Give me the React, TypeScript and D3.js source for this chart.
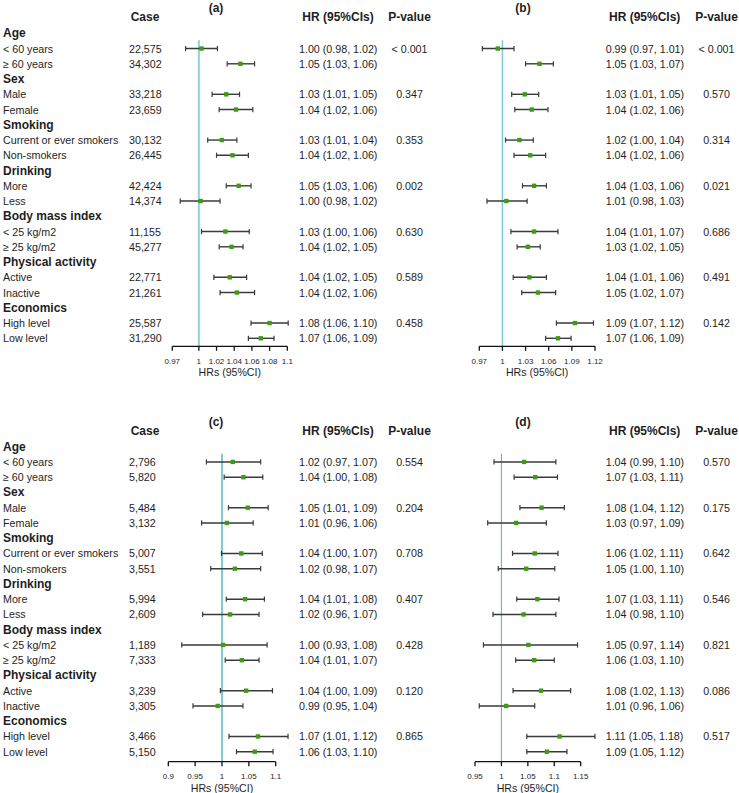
import React from "react";
import * as d3 from "d3";

const groups = ["Age", "Sex", "Smoking", "Drinking", "Body mass index", "Physical activity", "Economics"];
const subgroups = [
  ["< 60 years", "≥ 60 years"],
  ["Male", "Female"],
  ["Current or ever smokers", "Non-smokers"],
  ["More", "Less"],
  ["< 25 kg/m2", "≥ 25 kg/m2"],
  ["Active", "Inactive"],
  ["High level", "Low level"],
];

const casesTop = [22575, 34302, 33218, 23659, 30132, 26445, 42424, 14374, 11155, 45277, 22771, 21261, 25587, 31290];
const casesBottom = [2796, 5820, 5484, 3132, 5007, 3551, 5994, 2609, 1189, 7333, 3239, 3305, 3466, 5150];

const hrTextA = ["1.00 (0.98, 1.02)", "1.05 (1.03, 1.06)", "1.03 (1.01, 1.05)", "1.04 (1.02, 1.06)", "1.03 (1.01, 1.04)", "1.04 (1.02, 1.06)", "1.05 (1.03, 1.06)", "1.00 (0.98, 1.02)", "1.03 (1.00, 1.06)", "1.04 (1.02, 1.05)", "1.04 (1.02, 1.05)", "1.04 (1.02, 1.06)", "1.08 (1.06, 1.10)", "1.07 (1.06, 1.09)"];
const hrTextB = ["0.99 (0.97, 1.01)", "1.05 (1.03, 1.07)", "1.03 (1.01, 1.05)", "1.04 (1.02, 1.06)", "1.02 (1.00, 1.04)", "1.04 (1.02, 1.06)", "1.04 (1.03, 1.06)", "1.01 (0.98, 1.03)", "1.04 (1.01, 1.07)", "1.03 (1.02, 1.05)", "1.04 (1.01, 1.06)", "1.05 (1.02, 1.07)", "1.09 (1.07, 1.12)", "1.07 (1.06, 1.09)"];
const hrTextC = ["1.02 (0.97, 1.07)", "1.04 (1.00, 1.08)", "1.05 (1.01, 1.09)", "1.01 (0.96, 1.06)", "1.04 (1.00, 1.07)", "1.02 (0.98, 1.07)", "1.04 (1.01, 1.08)", "1.02 (0.96, 1.07)", "1.00 (0.93, 1.08)", "1.04 (1.01, 1.07)", "1.04 (1.00, 1.09)", "0.99 (0.95, 1.04)", "1.07 (1.01, 1.12)", "1.06 (1.03, 1.10)"];
const hrTextD = ["1.04 (0.99, 1.10)", "1.07 (1.03, 1.11)", "1.08 (1.04, 1.12)", "1.03 (0.97, 1.09)", "1.06 (1.02, 1.11)", "1.05 (1.00, 1.10)", "1.07 (1.03, 1.11)", "1.04 (0.98, 1.10)", "1.05 (0.97, 1.14)", "1.06 (1.03, 1.10)", "1.08 (1.02, 1.13)", "1.01 (0.96, 1.06)", "1.11 (1.05, 1.18)", "1.09 (1.05, 1.12)"];

const pA = ["< 0.001", "0.347", "0.353", "0.002", "0.630", "0.589", "0.458"];
const pB = ["< 0.001", "0.570", "0.314", "0.021", "0.686", "0.491", "0.142"];
const pC = ["0.554", "0.204", "0.708", "0.407", "0.428", "0.120", "0.865"];
const pD = ["0.570", "0.175", "0.642", "0.546", "0.821", "0.086", "0.517"];

const estA = [1.003, 1.047, 1.031, 1.042, 1.026, 1.038, 1.045, 1.002, 1.030, 1.037, 1.035, 1.043, 1.080, 1.070];
const loA = [0.985, 1.032, 1.015, 1.023, 1.010, 1.020, 1.031, 0.979, 1.003, 1.023, 1.017, 1.024, 1.059, 1.056];
const hiA = [1.021, 1.063, 1.046, 1.061, 1.043, 1.056, 1.059, 1.024, 1.057, 1.050, 1.054, 1.063, 1.101, 1.085];

const estB = [0.994, 1.048, 1.029, 1.038, 1.022, 1.036, 1.041, 1.005, 1.041, 1.033, 1.035, 1.046, 1.094, 1.072];
const loB = [0.974, 1.030, 1.012, 1.016, 1.004, 1.015, 1.026, 0.980, 1.011, 1.019, 1.014, 1.025, 1.070, 1.056];
const hiB = [1.015, 1.066, 1.047, 1.059, 1.040, 1.056, 1.057, 1.032, 1.072, 1.049, 1.057, 1.069, 1.118, 1.089];

const estC = [1.020, 1.040, 1.048, 1.009, 1.036, 1.024, 1.043, 1.015, 1.002, 1.037, 1.045, 0.992, 1.067, 1.061];
const loC = [0.971, 1.004, 1.012, 0.962, 0.999, 0.979, 1.008, 0.964, 0.925, 1.006, 0.997, 0.946, 1.013, 1.027];
const hiC = [1.072, 1.076, 1.086, 1.058, 1.075, 1.072, 1.079, 1.069, 1.084, 1.069, 1.094, 1.039, 1.123, 1.095];

const estD = [1.043, 1.064, 1.076, 1.028, 1.063, 1.047, 1.068, 1.042, 1.051, 1.062, 1.075, 1.009, 1.110, 1.086];
const loD = [0.986, 1.024, 1.035, 0.974, 1.021, 0.994, 1.029, 0.984, 0.966, 1.027, 1.022, 0.958, 1.048, 1.048];
const hiD = [1.103, 1.106, 1.119, 1.085, 1.107, 1.101, 1.109, 1.103, 1.144, 1.100, 1.131, 1.063, 1.177, 1.124];

const ticksA = [0.97, 1, 1.02, 1.04, 1.06, 1.08, 1.1];
const ticksB = [0.97, 1, 1.03, 1.06, 1.09, 1.12];
const ticksC = [0.9, 0.95, 1, 1.05, 1.1];
const ticksD = [0.95, 1, 1.05, 1.1, 1.15];

const FONT = "'Liberation Sans', Arial, Helvetica, sans-serif";
const TXT = "#1e1e1e";

type PanelProps = {
  title: string;
  titleX: number;
  top: number; // y of title center
  showLabels: boolean;
  cases?: number[];
  est: number[];
  lo: number[];
  hi: number[];
  hrText: string[];
  pvals: string[];
  ticks: number[];
  range: [number, number];
  hrX: number;
  pX: number;
  axisGap: number;
  refWidth: number;
  refColor: string;
};

function Panel(p: PanelProps) {
  const x = d3.scaleLinear().domain([p.ticks[0], p.ticks[p.ticks.length - 1]]).range(p.range);
  const headerY = p.top + 9;
  const firstRow = p.top + 25;
  const step = 15.25;
  const rowY = d3.range(21).map((i) => firstRow + i * step);
  const axisY = rowY[20] + p.axisGap;
  const fmtCase = d3.format(",");
  const fmtTick = (t: number) => String(+t.toFixed(2));
  const items: React.ReactNode[] = [];
  groups.forEach((g, gi) => {
    const hy = rowY[gi * 3];
    if (p.showLabels) {
      items.push(
        <text key={"g" + gi} x={3} y={hy} dominantBaseline="central" fontWeight="bold" fontSize={12} fill={TXT}>{g}</text>
      );
    }
    subgroups[gi].forEach((s, si) => {
      const idx = gi * 2 + si;
      const y = rowY[gi * 3 + 1 + si];
      if (p.showLabels) {
        items.push(
          <text key={"s" + idx} x={3} y={y} dominantBaseline="central" fontSize={10.7} fill={TXT}>{s}</text>
        );
      }
      if (p.cases) {
        items.push(
          <text key={"c" + idx} x={129} y={y} dominantBaseline="central" fontSize={10.7} fill={TXT}>{fmtCase(p.cases[idx])}</text>
        );
      }
      items.push(
        <text key={"h" + idx} x={p.hrX} y={y} dominantBaseline="central" fontSize={10.7} fill={TXT}>{p.hrText[idx]}</text>
      );
      if (si === 0) {
        items.push(
          <text key={"p" + idx} x={p.pX} y={y} dominantBaseline="central" textAnchor="middle" fontSize={10.7} fill={TXT}>{p.pvals[gi]}</text>
        );
      }
      const x0 = x(p.lo[idx]);
      const x1 = x(p.hi[idx]);
      items.push(
        <g key={"e" + idx}>
          <line x1={x0} x2={x1} y1={y} y2={y} stroke="#3a3a3a" strokeWidth={1.4} />
          <line x1={x0} x2={x0} y1={y - 2.6} y2={y + 2.6} stroke="#3a3a3a" strokeWidth={1.2} />
          <line x1={x1} x2={x1} y1={y - 2.6} y2={y + 2.6} stroke="#3a3a3a" strokeWidth={1.2} />
          <rect x={x(p.est[idx]) - 2.2} y={y - 2.2} width={4.4} height={4.4} fill="#3f9a14" />
        </g>
      );
    });
  });

  const [r0, r1] = p.range;
  return (
    <g fontFamily={FONT}>
      <text x={p.titleX} y={p.top} textAnchor="middle" dominantBaseline="central" fontWeight="bold" fontSize={12} fill={TXT}>{p.title}</text>
      {p.cases && (
        <text x={145} y={headerY} textAnchor="middle" dominantBaseline="central" fontWeight="bold" fontSize={12} fill={TXT}>Case</text>
      )}
      <text x={p.hrX + 39} y={headerY} textAnchor="middle" dominantBaseline="central" fontWeight="bold" fontSize={12} fill={TXT}>HR (95%CIs)</text>
      <text x={p.pX} y={headerY} textAnchor="middle" dominantBaseline="central" fontWeight="bold" fontSize={12} fill={TXT}>P-value</text>
      <line x1={x(1)} x2={x(1)} y1={rowY[0] + 7} y2={axisY} stroke={p.refColor} strokeWidth={p.refWidth} />
      {items}
      <line x1={r0} x2={r1} y1={axisY} y2={axisY} stroke="#111" strokeWidth={1.3} />
      {p.ticks.map((t) => (
        <g key={"t" + t}>
          <line x1={x(t)} x2={x(t)} y1={axisY} y2={axisY + 4.5} stroke="#111" strokeWidth={1.3} />
          <text x={x(t)} y={axisY + 15} textAnchor="middle" dominantBaseline="central" fontSize={8} fill={TXT}>{fmtTick(t)}</text>
        </g>
      ))}
      <text x={(r0 + r1) / 2} y={axisY + 26} textAnchor="middle" dominantBaseline="central" fontSize={10.6} fill={TXT}>HRs (95%CI)</text>
    </g>
  );
}

export default function App() {
  return (
    <svg width={739} height={793} style={{ position: "absolute", left: 0, top: 0, background: "#fff" }}>
      <rect x={0} y={0} width={739} height={793} fill="#fff" />
      <Panel title="(a)" titleX={216} top={8.3} showLabels cases={casesTop} est={estA} lo={loA} hi={hiA}
        hrText={hrTextA} pvals={pA} ticks={ticksA} range={[172.3, 287.3]} hrX={299} pX={409.5} axisGap={8}
        refWidth={2} refColor="#8ad3de" />
      <Panel title="(b)" titleX={523} top={8.3} showLabels={false} est={estB} lo={loB} hi={hiB}
        hrText={hrTextB} pvals={pB} ticks={ticksB} range={[479.3, 595]} hrX={605.7} pX={716.5} axisGap={8}
        refWidth={1.5} refColor="#7ccbd8" />
      <Panel title="(c)" titleX={216} top={421.7} showLabels cases={casesBottom} est={estC} lo={loC} hi={hiC}
        hrText={hrTextC} pvals={pC} ticks={ticksC} range={[168.3, 275.7]} hrX={299} pX={409.5} axisGap={10}
        refWidth={2} refColor="#82c9d6" />
      <Panel title="(d)" titleX={523} top={421.7} showLabels={false} est={estD} lo={loD} hi={hiD}
        hrText={hrTextD} pvals={pD} ticks={ticksD} range={[475, 580.7]} hrX={605.7} pX={716.5} axisGap={10}
        refWidth={1.1} refColor="#5db8c8" />
    </svg>
  );
}
